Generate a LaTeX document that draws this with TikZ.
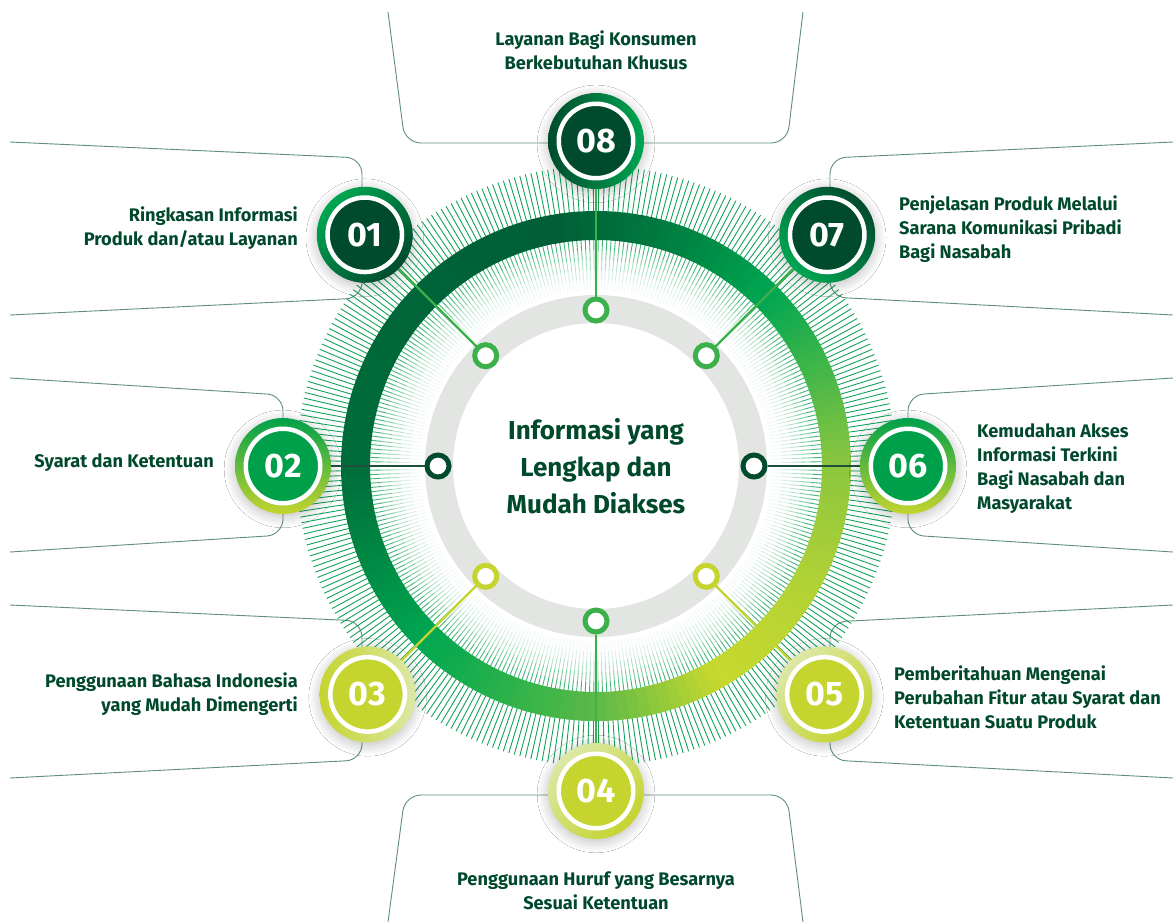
\documentclass[tikz,border=0pt]{standalone}
\usepackage{fontspec}
\setmainfont{Fira Sans}
\usetikzlibrary{shadows.blur}
\definecolor{txt}{HTML}{00492C}
\definecolor{dkfill}{HTML}{004B2E}
\definecolor{bgreen}{HTML}{00A651}
\definecolor{sgreen}{HTML}{3CB04A}
\definecolor{lime}{HTML}{C5D42F}
\definecolor{pale}{HTML}{DCE8A6}
\definecolor{greyring}{HTML}{E2E5E2}
\definecolor{outline}{HTML}{5F8F7B}
\definecolor{dkspoke}{HTML}{1E4F3B}
\definecolor{midgreen}{HTML}{00A04B}
\definecolor{tickc}{HTML}{12A358}
\definecolor{rA}{HTML}{C8D92E}
\definecolor{rB}{HTML}{B3D235}
\definecolor{rC}{HTML}{8CC63F}
\definecolor{rD}{HTML}{3DB54A}
\definecolor{rE}{HTML}{00A651}
\definecolor{rF}{HTML}{007A3E}
\definecolor{rG}{HTML}{005E37}
\definecolor{rH}{HTML}{006D3B}
\definecolor{rI}{HTML}{008C44}
\definecolor{rJ}{HTML}{00A651}
\definecolor{rK}{HTML}{2FB34A}
\definecolor{rL}{HTML}{5CB947}
\begin{document}
\begin{tikzpicture}[x=1pt,y=-1pt,
  outl/.style={draw=outline, line width=0.9pt, rounded corners=16pt},
  captext/.style={text=txt, font=\fontsize{18.2}{24}\selectfont\bfseries, inner sep=0pt},
  numouter/.style={circle, minimum size=96pt, inner sep=0pt,
    blur shadow={shadow xshift=0pt,shadow yshift=-3pt,shadow blur radius=12pt,shadow opacity=28,shadow scale=0.98,shadow blur steps=20}},
  numinner/.style={circle, minimum size=74.5pt, inner sep=0pt, draw=white, line width=4.5pt,
    text=white, font=\fontsize{34}{34}\selectfont\bfseries},
  small/.style={circle, minimum size=22pt, inner sep=0pt, fill=white, line width=5pt},
  spoke/.style={line width=2.2pt},
  tickline/.style={tickc, line width=0.9pt},
]
\useasboundingbox (0,0) rectangle (1173,922);
\fill[white] (0,0) rectangle (1173,922);

% outline brackets
\draw[outl] (10,142) -- (362,158) -- (362,205);
\draw[outl] (10,315) -- (362,298) -- (362,270);
\draw[outl] (10,378) -- (283,395) -- (283,430);
\draw[outl] (10,552) -- (283,535) -- (283,500);
\draw[outl] (10,605) -- (362,621) -- (362,660);
\draw[outl] (10,778) -- (362,760) -- (362,725);
\draw[outl] (388,922) -- (405,795) -- (560,795);
\draw[outl] (803,922) -- (787,795) -- (640,795);
\draw[outl] (388,12) -- (405,143) -- (560,143);
\draw[outl] (803,12) -- (787,143) -- (640,143);
\draw[outl] (1173,142) -- (830,158) -- (830,205);
\draw[outl] (1173,315) -- (830,297) -- (830,270);
\draw[outl] (1173,378) -- (908,395) -- (908,430);
\draw[outl] (1173,552) -- (908,535) -- (908,500);
\draw[outl] (1173,605) -- (830,622) -- (830,660);
\draw[outl] (1173,778) -- (830,760) -- (830,725);

\begin{scope}[shift={(596,466)}, x=1pt, y=1pt]
  % ticks outside
  \draw[tickline] \foreach \i in {0,...,329}{(\i*1.0909:254pt) -- (\i*1.0909:300pt)};
  % ticks inside, fading
  \foreach \ri/\ro/\o in {216pt/228pt/0.8, 206pt/216pt/0.55, 196pt/206pt/0.32, 186pt/196pt/0.16, 176pt/186pt/0.06}{
    \draw[tickline, opacity=\o] \foreach \i in {0,...,329}{(\i*1.0909:\ri) -- (\i*1.0909:\ro)};
  }
  % grey ring
  \fill[greyring, even odd rule] (0,0) circle[radius=171pt] (0,0) circle[radius=143pt];
  % green gradient ring
  \foreach \a/\b/\ca/\cb in {-60/-30/rA/rB, -30/0/rB/rC, 0/25/rC/rD, 25/45/rD/rE, 45/75/rE/rF,
      75/100/rF/rG, 100/180/rG/rH, 180/205/rH/rI, 205/225/rI/rJ, 225/250/rJ/rK, 250/270/rK/rL, 270/300/rL/rA}{
    \foreach \k in {0,...,11}{
      \pgfmathsetmacro\s{\a+(\b-\a)*\k/12}
      \pgfmathsetmacro\e{\a+(\b-\a)*(\k+1)/12+0.4}
      \pgfmathtruncatemacro\p{100*(\k+0.5)/12}
      \fill[\cb!\p!\ca] (\s:255pt) arc[start angle=\s,end angle=\e,radius=255pt]
        -- (\e:226pt) arc[start angle=\e,end angle=\s,radius=226pt] -- cycle;
    }
  }
  % small circles
  \node[small, draw=sgreen] (s8) at (90:156pt) {};
  \node[small, draw=sgreen] (s1) at (135:156pt) {};
  \node[small, draw=sgreen] (s7) at (45:156pt) {};
  \node[small, draw=dkfill] (s2) at (180:158pt) {};
  \node[small, draw=dkfill] (s6) at (0:158pt) {};
  \node[small, draw=lime] (s3) at (225:156pt) {};
  \node[small, draw=lime] (s5) at (315:156pt) {};
  \node[small, draw=sgreen] (s4) at (270:155pt) {};
  % number circles
  \node[numouter, left color=dkfill, right color=bgreen] (n8) at (90:325pt) {};
  \node[numouter, left color=bgreen, right color=dkfill, shading angle=45] (n1) at (135:327pt) {};
  \node[numouter, left color=dkfill, right color=bgreen, shading angle=-45] (n7) at (45:327pt) {};
  \node[numouter, top color=midgreen, bottom color=lime] (n2) at (180:313pt) {};
  \node[numouter, top color=midgreen, bottom color=lime] (n6) at (0:312pt) {};
  \node[numouter, left color=lime, right color=pale] (n3) at (225:323pt) {};
  \node[numouter, left color=pale, right color=lime, shading angle=45] (n5) at (315:323pt) {};
  \node[numouter, left color=pale, right color=lime, shading angle=45] (n4) at (270:325pt) {};
  \node[numinner, fill=dkfill] (n8i) at (n8) {08};
  \node[numinner, fill=dkfill] (n1i) at (n1) {01};
  \node[numinner, fill=dkfill] (n7i) at (n7) {07};
  \node[numinner, fill=midgreen] (n2i) at (n2) {02};
  \node[numinner, fill=midgreen] (n6i) at (n6) {06};
  \node[numinner, fill=lime] (n3i) at (n3) {03};
  \node[numinner, fill=lime] (n5i) at (n5) {05};
  \node[numinner, fill=lime] (n4i) at (n4) {04};
  % spokes
  \draw[spoke, sgreen] (s8) -- (n8);
  \draw[spoke, sgreen] (s1) -- (n1);
  \draw[spoke, sgreen] (s7) -- (n7);
  \draw[spoke, dkspoke] (s2) -- (n2);
  \draw[spoke, dkspoke] (s6) -- (n6);
  \draw[spoke, lime] (s3) -- (n3);
  \draw[spoke, lime] (s5) -- (n5);
  \draw[spoke, sgreen] (s4) -- (n4);
  % centre text
  \node[text=txt, font=\fontsize{26}{37}\selectfont\bfseries, align=center] (ctr) at (0,0)
    {Informasi yang\\Lengkap dan\\Mudah Diakses};
\end{scope}

% captions
\node[captext, align=center] (c8) at (596,50) {Layanan Bagi Konsumen\\Berkebutuhan Khusus};
\node[captext, align=right, anchor=east] (c1) at (298,228) {Ringkasan Informasi\\Produk dan/atau Layanan};
\node[captext, align=right, anchor=east] (c2) at (214,463) {Syarat dan Ketentuan};
\node[captext, align=right, anchor=east] (c3) at (298,694) {Penggunaan Bahasa Indonesia\\yang Mudah Dimengerti};
\node[captext, align=center] (c4) at (596,891) {Penggunaan Huruf yang Besarnya\\Sesuai Ketentuan};
\node[captext, align=left, anchor=west] (c5) at (894,697) {Pemberitahuan Mengenai\\Perubahan Fitur atau Syarat dan\\Ketentuan Suatu Produk};
\node[captext, align=left, anchor=west] (c6) at (977,469) {Kemudahan Akses\\Informasi Terkini\\Bagi Nasabah dan\\Masyarakat};
\node[captext, align=left, anchor=west] (c7) at (899,229) {Penjelasan Produk Melalui\\Sarana Komunikasi Pribadi\\Bagi Nasabah};
\end{tikzpicture}
\end{document}
